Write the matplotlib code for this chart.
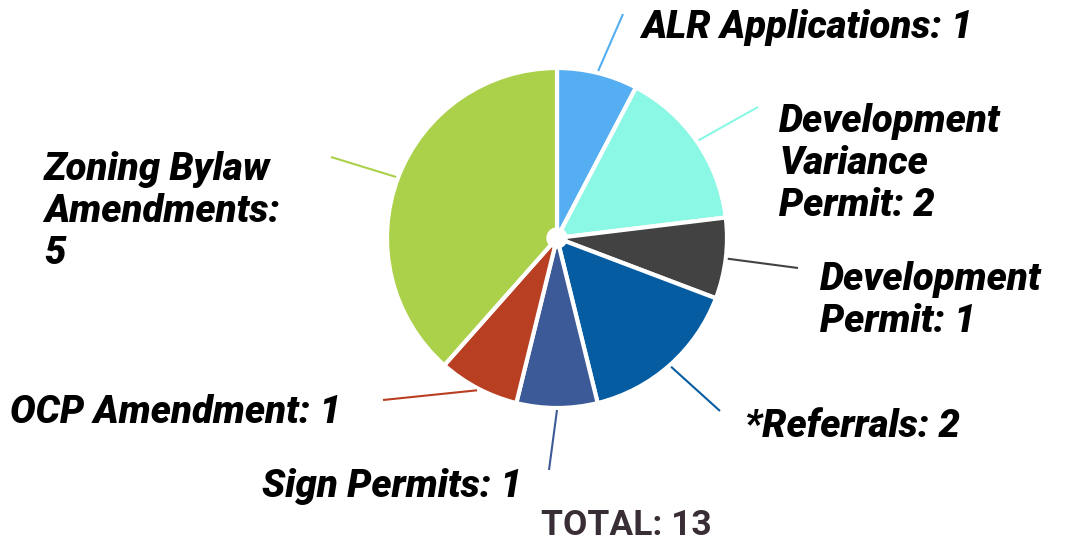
import numpy as np
import matplotlib
matplotlib.use("Agg")
import matplotlib.pyplot as plt

# chart data
categories = ["ALR Applications", "Development\nVariance\nPermit", "Development\nPermit",
              "*Referrals", "Sign Permits", "OCP Amendment", "Zoning Bylaw\nAmendments:\n"]
counts = [1, 2, 1, 2, 1, 1, 5]
colors = ["#55aef2", "#8af8e4", "#424242", "#055ca1", "#3d5a98", "#b83f22", "#abd04a"]

# layout (pixel coords, y from the top of the image)
W, H = 1075, 541
center = (557, 238)
radius = 170
label_pos = [(641, 38), (779, 132), (820, 290), (745, 437), (262, 497), (10, 423), (44, 180)]
line_end = [(623, 14), (758, 107), (798, 268), (720, 411), (549, 470), (383, 400), (331, 157)]
line_gap = 42

fig = plt.figure(figsize=(W / 100, H / 100), dpi=100)
ax = fig.add_axes([0, 0, 1, 1])

cx, cy = center[0], H - center[1]
ax.pie(counts, colors=colors, startangle=90, counterclock=False,
       center=(cx, cy), radius=radius, frame=True,
       wedgeprops=dict(edgecolor="white", linewidth=3))
ax.set_xlim(0, W)
ax.set_ylim(0, H)
ax.set_aspect("equal")
ax.axis("off")
ax.add_patch(plt.Circle((cx, cy), 10, color="white", zorder=5))

total = sum(counts)
start = 0
for i, (cat, n) in enumerate(zip(categories, counts)):
    mid = np.radians((start + n / 2) / total * 360)
    start += n
    x0 = cx + (radius + 2) * np.sin(mid)
    y0 = cy + (radius + 2) * np.cos(mid)
    ex, ey = line_end[i]
    ax.plot([x0, ex], [y0, H - ey], color=colors[i], lw=1.5, solid_capstyle="butt")

    # the zoning label already ends with its line break
    text = cat + ("" if cat.endswith("\n") else ": ") + str(n)
    lx, ly = label_pos[i]
    for j, line in enumerate(text.split("\n")):
        ax.text(lx, H - (ly + j * line_gap), line, ha="left", va="baseline",
                fontsize=27.5, fontweight="black", fontstyle="italic",
                family=["Roboto", "DejaVu Sans"], color="black")

ax.text(626, H - 535, f"TOTAL: {total}", ha="center", va="baseline",
        fontsize=25.5, fontweight="bold", family=["Roboto", "DejaVu Sans"], color="#3a2e36")

fig.savefig("out.png", dpi=100, facecolor="white")
